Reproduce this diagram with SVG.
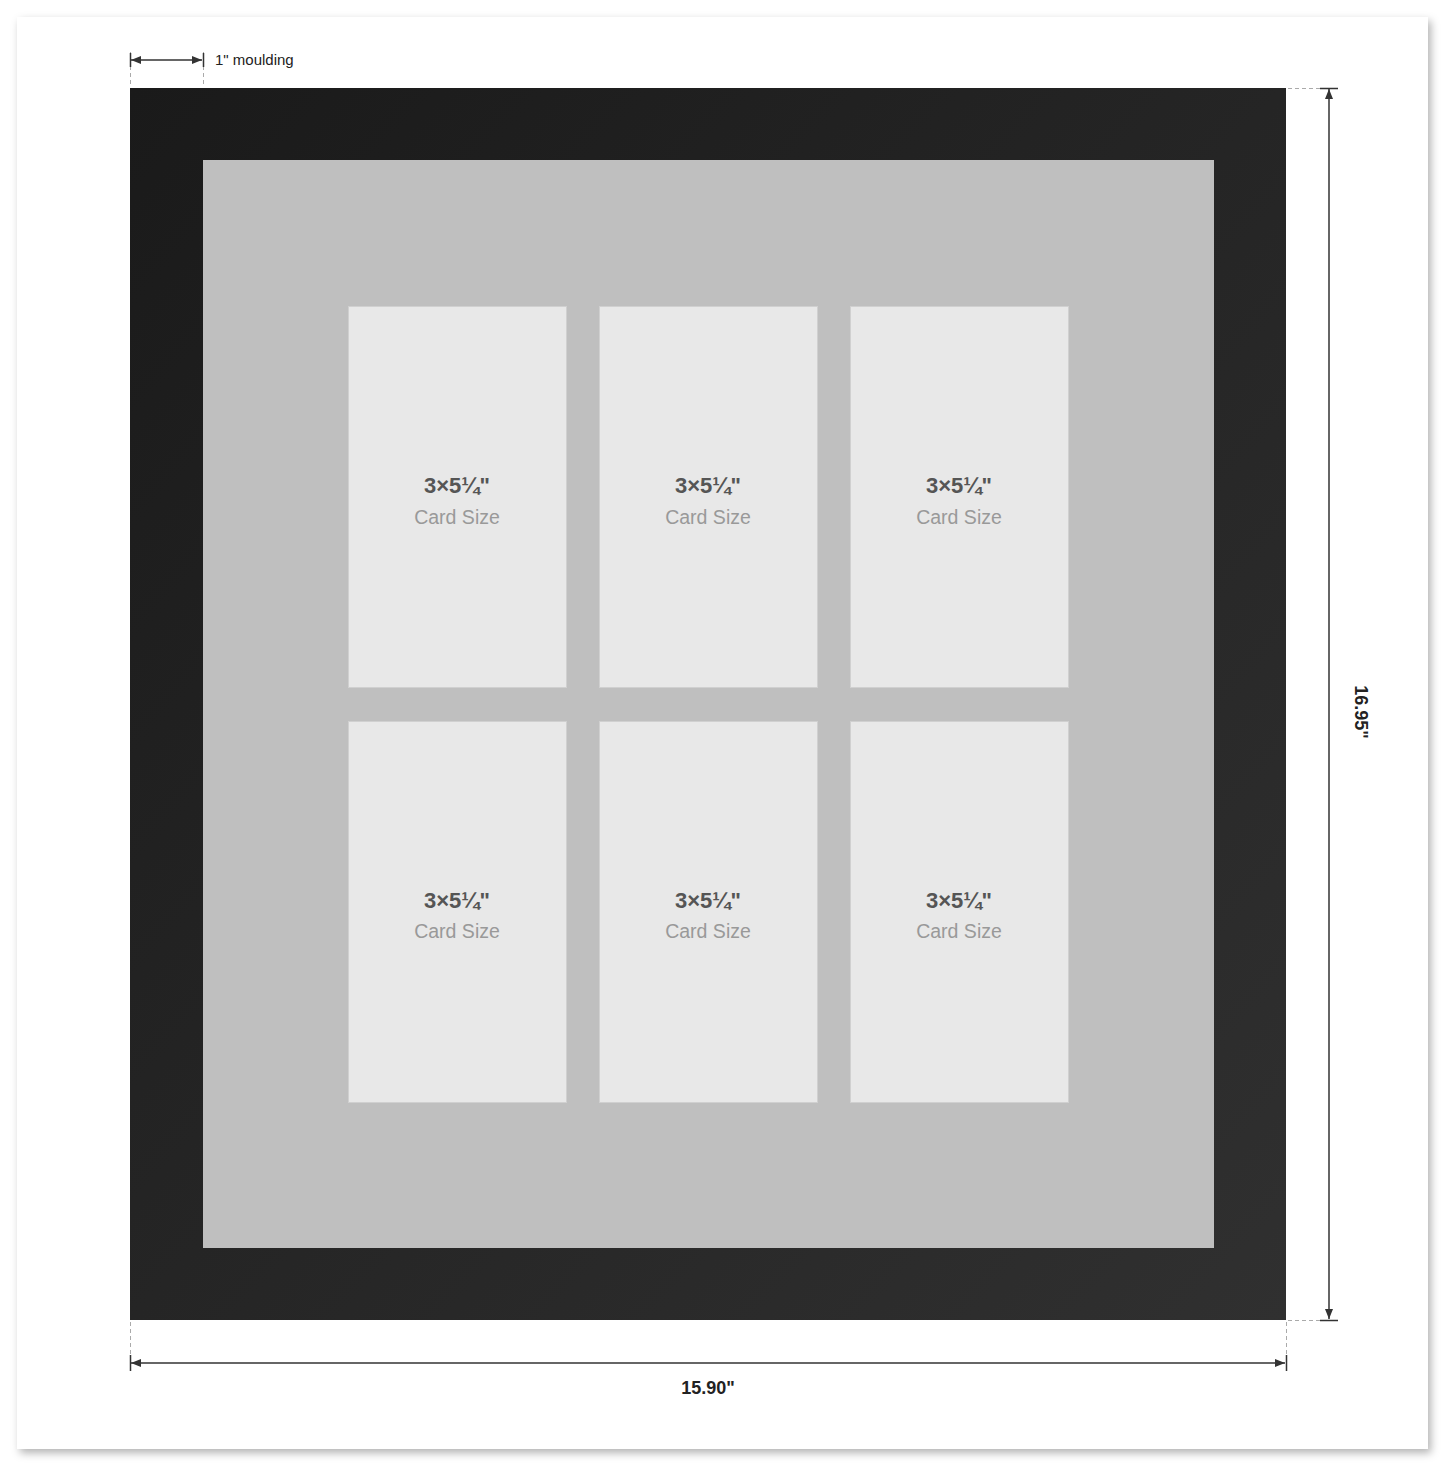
<svg xmlns="http://www.w3.org/2000/svg" width="1445" height="1466" viewBox="0 0 1445 1466">
<defs>
<linearGradient id="fg" x1="0" y1="0" x2="1" y2="1">
<stop offset="0" stop-color="#1a1a1a"/>
<stop offset="1" stop-color="#303030"/>
</linearGradient>
<filter id="sh" x="-5%" y="-5%" width="110%" height="110%">
<feDropShadow dx="3" dy="4" stdDeviation="4" flood-color="#000" flood-opacity="0.3"/>
</filter>
<marker id="ah" viewBox="0 0 10 10" refX="10" refY="5" markerWidth="10" markerHeight="10" orient="auto-start-reverse" markerUnits="userSpaceOnUse">
<path d="M0,1 L10,5 L0,9 z" fill="#333"/>
</marker>
</defs>
<style>
.op{fill:#e8e8e8;stroke:#d0d0d0;stroke-width:1}
.sz{font-family:"Liberation Sans",Arial,sans-serif;font-size:22px;font-weight:bold;fill:#555;text-anchor:middle}
.cs{font-family:"Liberation Sans",Arial,sans-serif;font-size:19.5px;fill:#999;text-anchor:middle}
.dim{stroke:#333;stroke-width:1.5;fill:none}
.ext{stroke:#aaa;stroke-width:1;stroke-dasharray:4,3;fill:none}
.lbl{font-family:"Liberation Sans",Arial,sans-serif;font-size:18px;font-weight:bold;fill:#222}
</style>
<rect x="0" y="0" width="1445" height="1466" fill="#fff"/>
<rect x="17" y="17" width="1411" height="1432" fill="#fff" filter="url(#sh)"/>
<g id="frame">
<rect x="130" y="88" width="1156" height="1232" fill="url(#fg)"/>
</g>
<g id="mat">
<rect x="203" y="160" width="1011" height="1088" fill="#bfbfbf"/>
</g>
<g id="op1"><rect class="op" x="348.5" y="306.5" width="218" height="381"/><text class="sz" x="457" y="493">3×5¼"</text><text class="cs" x="457" y="524">Card Size</text></g>
<g id="op2"><rect class="op" x="599.5" y="306.5" width="218" height="381"/><text class="sz" x="708" y="493">3×5¼"</text><text class="cs" x="708" y="524">Card Size</text></g>
<g id="op3"><rect class="op" x="850.5" y="306.5" width="218" height="381"/><text class="sz" x="959" y="493">3×5¼"</text><text class="cs" x="959" y="524">Card Size</text></g>
<g id="op4"><rect class="op" x="348.5" y="721.5" width="218" height="381"/><text class="sz" x="457" y="908">3×5¼"</text><text class="cs" x="457" y="938">Card Size</text></g>
<g id="op5"><rect class="op" x="599.5" y="721.5" width="218" height="381"/><text class="sz" x="708" y="908">3×5¼"</text><text class="cs" x="708" y="938">Card Size</text></g>
<g id="op6"><rect class="op" x="850.5" y="721.5" width="218" height="381"/><text class="sz" x="959" y="908">3×5¼"</text><text class="cs" x="959" y="938">Card Size</text></g>
<g id="connectors">
<path class="ext" d="M130.5,52 V86 M203.5,52 V86"/>
<path class="dim" d="M131,60 H202" marker-start="url(#ah)" marker-end="url(#ah)"/>
<path class="dim" d="M130.5,53 V67 M203.5,53 V67" stroke-width="1"/>
<path class="ext" d="M1288,88.5 H1322 M1288,1320.5 H1322"/>
<path class="dim" d="M1329,89 V1319" marker-start="url(#ah)" marker-end="url(#ah)"/>
<path class="dim" d="M1320,88.5 H1338 M1320,1320.5 H1338"/>
<path class="ext" d="M130.5,1322 V1370 M1286.5,1322 V1370"/>
<path class="dim" d="M131,1363 H1285" marker-start="url(#ah)" marker-end="url(#ah)"/>
<path class="dim" d="M130.5,1355 V1371 M1286.5,1355 V1371"/>
</g>
<text x="215" y="65" font-family="Liberation Sans, Arial, sans-serif" font-size="15" fill="#222">1" moulding</text>
<text class="lbl" x="708" y="1394" text-anchor="middle">15.90"</text>
<text class="lbl" x="0" y="0" text-anchor="middle" transform="translate(1355,712) rotate(90)">16.95"</text>
</svg>
